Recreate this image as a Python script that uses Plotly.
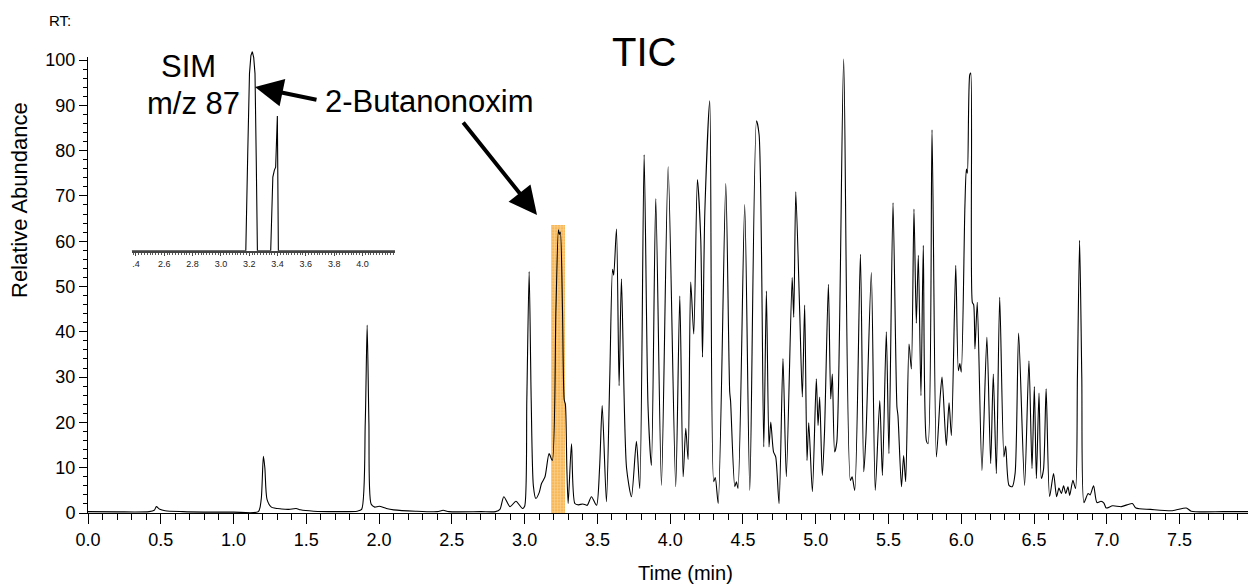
import plotly.graph_objects as go

# --- TIC chromatogram (retention time in min, relative abundance in %) ---
tic_rt = [
    0.00, 0.20, 0.42, 0.455, 0.47, 0.49, 0.53, 0.65, 0.80, 1.00,
    1.17, 1.19, 1.205, 1.215, 1.23, 1.26, 1.33, 1.38, 1.43, 1.46,
    1.55, 1.70, 1.85, 1.88, 1.905, 1.918, 1.93, 1.945, 1.97, 2.00,
    2.05, 2.10, 2.25, 2.40, 2.44, 2.48, 2.70, 2.80, 2.83, 2.857,
    2.90, 2.94, 2.985, 3.00, 3.015, 3.031, 3.045, 3.06, 3.077, 3.10,
    3.116, 3.14, 3.168, 3.19, 3.215, 3.232, 3.238, 3.245, 3.26, 3.272,
    3.28, 3.29, 3.299, 3.322, 3.345, 3.37, 3.40, 3.43, 3.459, 3.494,
    3.515, 3.533, 3.562, 3.585, 3.604, 3.612, 3.631, 3.649, 3.665, 3.70,
    3.734, 3.768, 3.791, 3.821, 3.848, 3.871, 3.901, 3.940, 3.986, 4.038,
    4.066, 4.089, 4.107, 4.123, 4.141, 4.162, 4.187, 4.21, 4.222, 4.238,
    4.272, 4.299, 4.31, 4.33, 4.382, 4.409, 4.415, 4.444, 4.455, 4.466,
    4.512, 4.547, 4.593, 4.611, 4.643, 4.661, 4.679, 4.691, 4.71, 4.725,
    4.748, 4.775, 4.798, 4.838, 4.849, 4.863, 4.89, 4.908, 4.924, 4.940,
    4.952, 4.977, 5.004, 5.016, 5.027, 5.045, 5.06, 5.087, 5.103, 5.114,
    5.130, 5.145, 5.192, 5.238, 5.25, 5.268, 5.307, 5.330, 5.345, 5.382,
    5.409, 5.440, 5.458, 5.485, 5.503, 5.531, 5.558, 5.565, 5.589, 5.604,
    5.618, 5.641, 5.657, 5.675, 5.691, 5.705, 5.723, 5.739, 5.760, 5.772,
    5.799, 5.829, 5.855, 5.868, 5.897, 5.916, 5.932, 5.962, 5.980, 5.99,
    6.000, 6.025, 6.035, 6.042, 6.058, 6.065, 6.076, 6.085, 6.094, 6.110,
    6.142, 6.176, 6.202, 6.220, 6.241, 6.264, 6.293, 6.305, 6.328, 6.35,
    6.37, 6.394, 6.435, 6.465, 6.486, 6.502, 6.516, 6.534, 6.550, 6.565,
    6.583, 6.607, 6.634, 6.655, 6.671, 6.688, 6.703, 6.718, 6.733, 6.745,
    6.767, 6.785, 6.798, 6.813, 6.828, 6.843, 6.871, 6.885, 6.909, 6.932,
    6.96, 6.98, 6.996, 7.04, 7.10, 7.175, 7.20, 7.30, 7.45, 7.546,
    7.58, 7.80, 7.97,
]
tic_abundance = [
    0.3, 0.25, 0.3, 0.6, 1.4, 0.9, 0.5, 0.3, 0.2, 0.2,
    0.3, 3.0, 12.5, 10.0, 3.0, 1.3, 0.9, 0.8, 1.0, 0.7,
    0.4, 0.3, 0.4, 0.8, 20.0, 41.5, 20.0, 2.0, 1.3, 1.5,
    1.0, 0.7, 0.4, 0.3, 0.6, 0.3, 0.3, 0.3, 0.8, 3.6,
    1.4, 2.6, 1.0, 1.5, 25.0, 53.3, 25.0, 6.0, 3.2, 4.5,
    6.5, 8.0, 13.1, 11.6, 45.0, 62.5, 61.5, 62.0, 45.0, 25.0,
    24.0, 10.0, 2.1, 15.3, 2.1, 1.8, 2.0, 1.7, 3.6, 1.7,
    10.0, 23.7, 2.5, 30.0, 53.8, 52.5, 62.7, 28.1, 51.7, 10.0,
    3.6, 15.8, 5.4, 79.1, 23.4, 10.5, 69.4, 6.1, 76.4, 5.8,
    47.9, 8.0, 18.7, 11.8, 51.0, 39.5, 73.6, 60.4, 34.4, 66.3,
    91.0, 6.9, 7.8, 2.1, 72.7, 26.7, 24.7, 5.8, 6.9, 5.4,
    68.1, 5.0, 86.6, 83.5, 14.6, 49.0, 14.6, 20.1, 13.5, 12.4,
    2.1, 34.1, 8.0, 52.0, 43.2, 70.9, 44.3, 25.6, 45.9, 11.6,
    19.9, 4.7, 29.6, 19.3, 25.6, 8.3, 17.5, 50.5, 25.2, 30.7,
    13.5, 15.7, 100.2, 7.2, 8.0, 5.0, 57.1, 9.1, 16.9, 53.1,
    5.0, 24.8, 8.3, 40.0, 13.1, 68.5, 23.4, 21.5, 5.8, 12.7,
    6.9, 37.3, 31.8, 67.1, 41.9, 56.9, 25.9, 59.1, 16.0, 15.3,
    84.6, 12.4, 25.6, 30.0, 14.9, 24.3, 17.1, 54.7, 31.4, 33.0,
    31.1, 67.7, 75.9, 75.0, 96.7, 97.1, 46.5, 46.0, 36.2, 46.5,
    9.4, 38.8, 10.9, 30.7, 8.7, 47.6, 12.4, 14.8, 6.1, 5.8,
    8.8, 39.7, 6.1, 33.6, 9.8, 27.9, 7.6, 26.5, 7.6, 9.6,
    27.4, 3.6, 8.7, 3.6, 5.5, 4.3, 6.0, 4.3, 5.8, 3.9,
    7.2, 5.4, 30.0, 60.2, 30.0, 2.3, 4.3, 4.0, 6.0, 2.3,
    2.6, 2.2, 1.1, 1.6, 1.4, 2.1, 1.1, 0.8, 0.5, 1.1,
    0.4, 0.3, 0.3,
]

# --- SIM trace m/z 87 (inset) ---
sim_rt = [2.37, 3.176, 3.19, 3.202, 3.212, 3.222, 3.232, 3.241, 3.25, 3.258,
          3.352, 3.367, 3.378, 3.387, 3.399, 3.406, 4.23]
sim_abundance = [0, 0, 50, 89, 98, 100, 97, 89, 45, 0,
                 0, 37, 40.5, 42, 67.7, 0, 0]

# 2-Butanonoxim retention window
oxime_rt_start = 3.18
oxime_rt_end = 3.278
oxime_window_top = 63.5

# axis ticks
rt_ticks = [0.0, 0.5, 1.0, 1.5, 2.0, 2.5, 3.0, 3.5, 4.0, 4.5, 5.0, 5.5, 6.0, 6.5, 7.0, 7.5]
rt_tick_labels = ["0.0", "0.5", "1.0", "1.5", "2.0", "2.5", "3.0", "3.5",
                  "4.0", "4.5", "5.0", "5.5", "6.0", "6.5", "7.0", "7.5"]
abundance_ticks = [0, 10, 20, 30, 40, 50, 60, 70, 80, 90, 100]
abundance_tick_labels = ["0", "10", "20", "30", "40", "50", "60", "70", "80", "90", "100"]
sim_ticks = [2.4, 2.6, 2.8, 3.0, 3.2, 3.4, 3.6, 3.8, 4.0]
sim_tick_labels = [".4", "2.6", "2.8", "3.0", "3.2", "3.4", "3.6", "3.8", "4.0"]

# --- page geometry (pixels) ---
W, H = 1248, 585
PL, PR, PT, PB = 88, 1248, 30, 513


def fx(px):
    return (px - PL) / (PR - PL)


def fy(py):
    return (PB - py) / (PB - PT)


SANS = "Liberation Sans, Arial, Helvetica, sans-serif"

fig = go.Figure()

fig.add_trace(go.Scatter(
    x=tic_rt, y=tic_abundance, mode="lines",
    line=dict(color="black", width=1.1, shape="spline", smoothing=0.7),
    hoverinfo="skip", showlegend=False, xaxis="x", yaxis="y",
))

# highlighted oxime peak
fig.add_trace(go.Bar(
    x=[(oxime_rt_start + oxime_rt_end) / 2], y=[oxime_window_top],
    width=[oxime_rt_end - oxime_rt_start],
    marker=dict(color="#F6A834", line=dict(width=0),
                pattern=dict(shape="+", fgcolor="#FDDCA0", size=3, solidity=0.45,
                             fillmode="overlay")),
    opacity=0.82, hoverinfo="skip", showlegend=False, xaxis="x", yaxis="y",
))

fig.add_trace(go.Scatter(
    x=sim_rt, y=sim_abundance, mode="lines",
    line=dict(color="black", width=1.1),
    hoverinfo="skip", showlegend=False, xaxis="x2", yaxis="y2",
))

main_top = 100.6
inset_top = 104
inset_base_py, inset_full_py = 250.7, 51.7

fig.update_layout(
    width=W, height=H,
    margin=dict(l=PL, r=W - PR, t=PT, b=H - PB),
    paper_bgcolor="white", plot_bgcolor="white",
    bargap=0,
    xaxis=dict(
        range=[0, 7.97], domain=[0, 1], anchor="y",
        tickmode="array", tickvals=rt_ticks, ticktext=rt_tick_labels,
        ticks="outside", ticklen=10, tickwidth=1, tickcolor="black",
        minor=dict(dtick=0.1, ticks="outside", ticklen=6, tickwidth=1, tickcolor="black"),
        showline=True, linecolor="black", linewidth=1,
        showgrid=False, zeroline=False,
        tickfont=dict(family=SANS, size=18, color="black"),
    ),
    yaxis=dict(
        range=[0, main_top], domain=[0, 4.53 * main_top / (PB - PT)],
        anchor="x",
        tickmode="array", tickvals=abundance_ticks, ticktext=abundance_tick_labels,
        ticks="outside", ticklen=8, tickwidth=1, tickcolor="black",
        minor=dict(dtick=2, ticks="outside", ticklen=4, tickwidth=1, tickcolor="black"),
        showline=True, linecolor="black", linewidth=1,
        showgrid=False, zeroline=False,
        tickfont=dict(family=SANS, size=18, color="black"),
    ),
    xaxis2=dict(
        range=[2.37, 4.23], domain=[fx(131.7), fx(395)], anchor="y2",
        tickmode="array", tickvals=sim_ticks, ticktext=sim_tick_labels,
        ticks="outside", ticklen=3, tickwidth=1, tickcolor="#444",
        minor=dict(dtick=0.02, ticks="outside", ticklen=2, tickwidth=1, tickcolor="#555"),
        showline=True, linecolor="#444", linewidth=2,
        showgrid=False, zeroline=False,
        tickfont=dict(family=SANS, size=9, color="#222"),
    ),
    yaxis2=dict(
        range=[0, inset_top], anchor="x2",
        domain=[fy(inset_base_py),
                fy(inset_base_py - (inset_base_py - inset_full_py) * inset_top / 100)],
        visible=False, showgrid=False, zeroline=False,
    ),
)

big = dict(family=SANS, size=31, color="black")
labels = [
    dict(text="RT:", x=fx(47), y=fy(20), xanchor="left",
         font=dict(family=SANS, size=15, color="black")),
    dict(text="SIM", x=fx(188), y=fy(66), font=big),
    dict(text="m/z 87", x=fx(193), y=fy(103), font=big),
    dict(text="2-Butanonoxim", x=fx(429), y=fy(101), font=big),
    dict(text="TIC", x=fx(644), y=fy(52), font=dict(family=SANS, size=40, color="black")),
    dict(text="Relative Abundance", x=fx(20), y=fy(200), textangle=-90,
         font=dict(family=SANS, size=22, color="black")),
    dict(text="Time (min)", x=fx(685), y=fy(573),
         font=dict(family=SANS, size=20, color="black")),
]
for a in labels:
    fig.add_annotation(xref="paper", yref="paper", showarrow=False,
                       xanchor=a.pop("xanchor", "center"), yanchor="middle", **a)

# arrows pointing at the SIM peak and at the TIC peak
for tip, tail in [((255, 87), (318, 100)), ((537, 215), (462, 121))]:
    fig.add_annotation(
        xref="paper", yref="paper", x=fx(tip[0]), y=fy(tip[1]),
        ax=tail[0] - tip[0], ay=tail[1] - tip[1], axref="pixel", ayref="pixel",
        text="", showarrow=True, arrowhead=2, arrowsize=1.4, arrowwidth=4,
        arrowcolor="black", standoff=0,
    )

fig.write_html("out.html")
